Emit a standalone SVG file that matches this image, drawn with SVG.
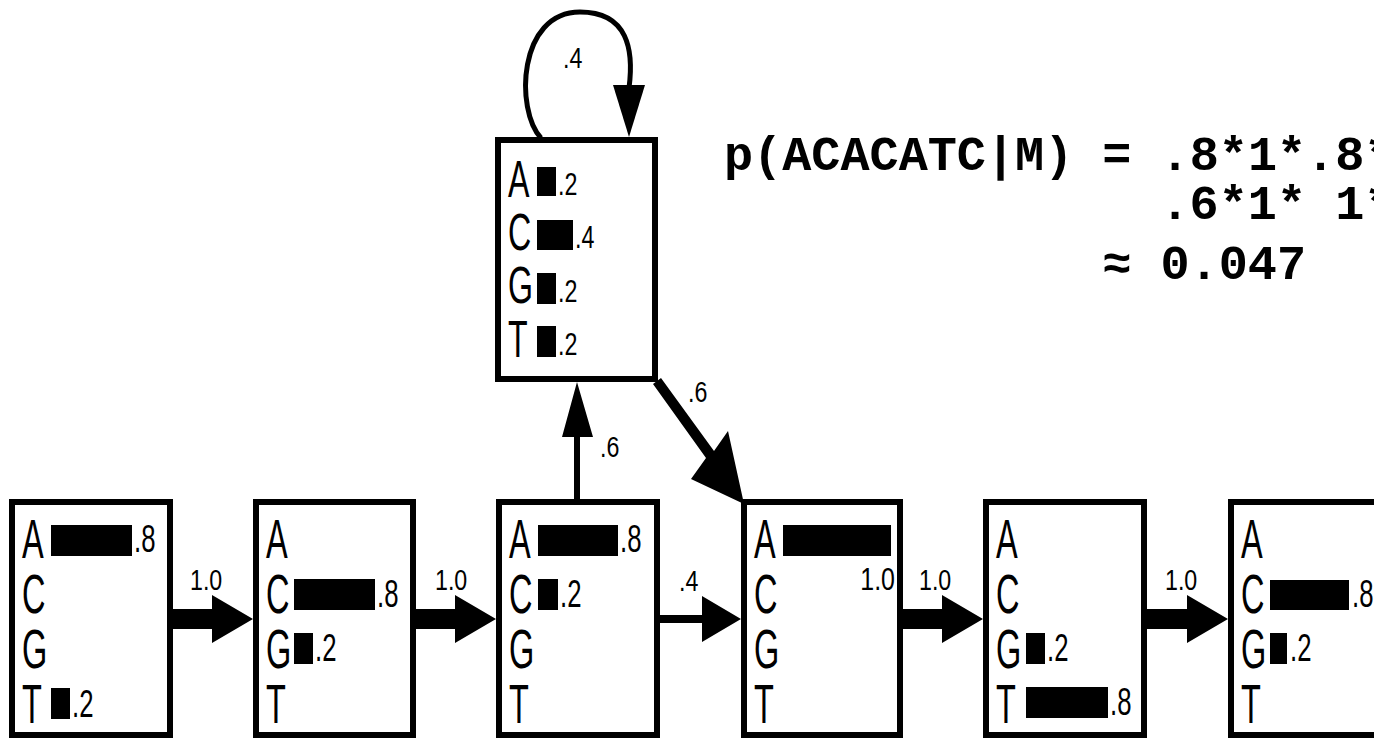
<svg xmlns="http://www.w3.org/2000/svg" width="1374" height="739" viewBox="0 0 1374 739">
  <style>
    .box { fill: #fff; stroke: #000; stroke-width: 6; }
    .bar { fill: #000; }
    .arrow { fill: #000; stroke: none; }
    .loop { fill: none; stroke: #000; stroke-width: 5; }
    .L { font-family: "Liberation Sans", Arial, sans-serif; font-size: 56px; fill: #000; }
    .Lt { font-family: "Liberation Sans", Arial, sans-serif; font-size: 51px; fill: #000; }
    .v { font-family: "Liberation Sans", Arial, sans-serif; font-size: 39px; fill: #000; }
    .vt { font-family: "Liberation Sans", Arial, sans-serif; font-size: 31px; fill: #000; }
    .e { font-family: "Liberation Sans", Arial, sans-serif; font-size: 29px; fill: #000; }
    .f { font-family: "Liberation Mono", "Courier New", monospace; font-weight: bold; font-size: 48.5px; fill: #000; }
  </style>
  <rect width="1374" height="739" fill="#fff"/>

  <!-- transitions -->
  <g id="connectors">
    <polygon class="arrow" points="173,609 212,609 212,595 253,619 212,643 212,629 173,629"/>
    <polygon class="arrow" points="416,609 455,609 455,595 496,619 455,643 455,629 416,629"/>
    <polygon class="arrow" points="660,615 702,615 702,596 741,619 702,642 702,623 660,623"/>
    <polygon class="arrow" points="903,609 942,609 942,595 983,619 942,643 942,629 903,629"/>
    <polygon class="arrow" points="1147,609 1187,609 1187,595 1228,619 1187,643 1187,629 1147,629"/>
    <!-- match state 3 to insert state -->
    <polygon class="arrow" points="574,499 574,437 562,437 577,382 593,437 580,437 580,499"/>
    <!-- insert state to match state 4 -->
    <polygon class="arrow" points="661,378 714,451 728,431 744,504 691,479 706,458 653,384"/>
    <!-- insert self-loop -->
    <path class="loop" d="M 541 138 C 515 110, 518 12, 580 12 C 628 12, 634 50, 629 88"/>
    <polygon class="arrow" points="613,85 645,85 629,137"/>

    <text class="e" transform="translate(190 590) scale(0.8 1)">1.0</text>
    <text class="e" transform="translate(435 590) scale(0.8 1)">1.0</text>
    <text class="e" transform="translate(679 591) scale(0.8 1)">.4</text>
    <text class="e" transform="translate(919 590) scale(0.8 1)">1.0</text>
    <text class="e" transform="translate(1165 590) scale(0.8 1)">1.0</text>
    <text class="e" transform="translate(600 457) scale(0.8 1)">.6</text>
    <text class="e" transform="translate(688 402) scale(0.8 1)">.6</text>
    <text class="e" transform="translate(563 68) scale(0.8 1)">.4</text>
  </g>

  <!-- match state 1 -->
  <g id="m1">
    <rect class="box" x="12" y="502" width="158" height="233"/>
    <text class="L" transform="translate(22 558) scale(0.58 1)">A</text>
    <text class="L" transform="translate(22 613) scale(0.58 1)">C</text>
    <text class="L" transform="translate(22 668) scale(0.58 1)">G</text>
    <text class="L" transform="translate(22 723) scale(0.58 1)">T</text>
    <rect class="bar" x="51" y="525" width="81" height="31"/>
    <text class="v" transform="translate(134 552) scale(0.66 1)">.8</text>
    <rect class="bar" x="51" y="688" width="19" height="31"/>
    <text class="v" transform="translate(72 717) scale(0.66 1)">.2</text>
  </g>

  <!-- match state 2 -->
  <g id="m2">
    <rect class="box" x="256" y="502" width="157" height="233"/>
    <text class="L" transform="translate(266 558) scale(0.58 1)">A</text>
    <text class="L" transform="translate(266 613) scale(0.58 1)">C</text>
    <text class="L" transform="translate(266 668) scale(0.58 1)">G</text>
    <text class="L" transform="translate(266 723) scale(0.58 1)">T</text>
    <rect class="bar" x="294" y="579" width="81" height="31"/>
    <text class="v" transform="translate(377 607) scale(0.66 1)">.8</text>
    <rect class="bar" x="294" y="633" width="19" height="31"/>
    <text class="v" transform="translate(315 661) scale(0.66 1)">.2</text>
  </g>

  <!-- match state 3 -->
  <g id="m3">
    <rect class="box" x="499" y="502" width="158" height="233"/>
    <text class="L" transform="translate(509 558) scale(0.58 1)">A</text>
    <text class="L" transform="translate(509 613) scale(0.58 1)">C</text>
    <text class="L" transform="translate(509 668) scale(0.58 1)">G</text>
    <text class="L" transform="translate(509 723) scale(0.58 1)">T</text>
    <rect class="bar" x="538" y="525" width="80" height="31"/>
    <text class="v" transform="translate(620 552) scale(0.66 1)">.8</text>
    <rect class="bar" x="538" y="579" width="20" height="31"/>
    <text class="v" transform="translate(560 607) scale(0.66 1)">.2</text>
  </g>

  <!-- insert state -->
  <g id="ins">
    <rect class="box" x="498" y="140" width="157" height="239"/>
    <text class="Lt" transform="translate(508 197) scale(0.63 1)">A</text>
    <text class="Lt" transform="translate(508 250) scale(0.63 1)">C</text>
    <text class="Lt" transform="translate(508 303) scale(0.63 1)">G</text>
    <text class="Lt" transform="translate(508 357) scale(0.63 1)">T</text>
    <rect class="bar" x="537" y="167" width="19" height="29"/>
    <text class="vt" transform="translate(558 195) scale(0.75 1)">.2</text>
    <rect class="bar" x="537" y="220" width="36" height="30"/>
    <text class="vt" transform="translate(575 248) scale(0.75 1)">.4</text>
    <rect class="bar" x="537" y="273" width="19" height="31"/>
    <text class="vt" transform="translate(558 302) scale(0.75 1)">.2</text>
    <rect class="bar" x="537" y="326" width="19" height="31"/>
    <text class="vt" transform="translate(558 355) scale(0.75 1)">.2</text>
  </g>

  <!-- match state 4 -->
  <g id="m4">
    <rect class="box" x="744" y="502" width="156" height="233"/>
    <text class="L" transform="translate(754 558) scale(0.58 1)">A</text>
    <text class="L" transform="translate(754 613) scale(0.58 1)">C</text>
    <text class="L" transform="translate(754 668) scale(0.58 1)">G</text>
    <text class="L" transform="translate(754 723) scale(0.58 1)">T</text>
    <rect class="bar" x="783" y="525" width="108" height="31"/>
    <text class="e" text-anchor="end" transform="translate(895 590) scale(0.78 1)" style="font-size:32px">1.0</text>
  </g>

  <!-- match state 5 -->
  <g id="m5">
    <rect class="box" x="986" y="502" width="158" height="233"/>
    <text class="L" transform="translate(996 558) scale(0.58 1)">A</text>
    <text class="L" transform="translate(996 613) scale(0.58 1)">C</text>
    <text class="L" transform="translate(996 668) scale(0.58 1)">G</text>
    <text class="L" transform="translate(996 723) scale(0.58 1)">T</text>
    <rect class="bar" x="1026" y="633" width="19" height="31"/>
    <text class="v" transform="translate(1047 661) scale(0.66 1)">.2</text>
    <rect class="bar" x="1026" y="687" width="82" height="31"/>
    <text class="v" transform="translate(1110 715) scale(0.66 1)">.8</text>
  </g>

  <!-- match state 6 -->
  <g id="m6">
    <rect class="box" x="1231" y="502" width="158" height="233"/>
    <text class="L" transform="translate(1241 558) scale(0.58 1)">A</text>
    <text class="L" transform="translate(1241 613) scale(0.58 1)">C</text>
    <text class="L" transform="translate(1241 668) scale(0.58 1)">G</text>
    <text class="L" transform="translate(1241 723) scale(0.58 1)">T</text>
    <rect class="bar" x="1270" y="580" width="79" height="30"/>
    <text class="v" transform="translate(1352 607) scale(0.66 1)">.8</text>
    <rect class="bar" x="1270" y="633" width="17" height="31"/>
    <text class="v" transform="translate(1290 661) scale(0.66 1)">.2</text>
  </g>

  <!-- sequence probability -->
  <g id="formula">
    <text class="f" x="724" y="170">p(ACACATC|M) = .8*1*.8*</text>
    <text class="f" x="1160.5" y="219">.6*1* 1*</text>
    <text class="f" x="1102.3" y="279">≈ 0.047</text>
  </g>
</svg>
